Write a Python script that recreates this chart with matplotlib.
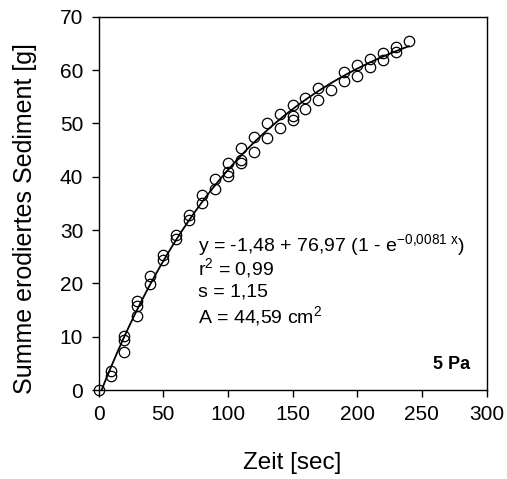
import numpy as np
import matplotlib
matplotlib.use("Agg")
import matplotlib.pyplot as plt

plt.rcParams['font.family'] = ['Liberation Sans', 'DejaVu Sans']
plt.rcParams['mathtext.fontset'] = 'custom'
plt.rcParams['mathtext.rm'] = 'Liberation Sans'
plt.rcParams['mathtext.it'] = 'Liberation Sans'

# Measured data (time in s, cumulative eroded sediment in g)
time_s = [0,
          10, 10,
          20, 20, 20,
          30, 30, 30,
          40, 40,
          50, 50,
          60, 60,
          70, 70,
          80, 80,
          90, 90,
          100, 100, 100,
          110, 110, 110,
          120, 120,
          130, 130,
          140, 140,
          150, 150, 150,
          160, 160,
          170, 170,
          180,
          190, 190,
          200, 200,
          210, 210,
          220, 220,
          230, 230,
          240]
sediment_g = [0.0,
              3.6, 2.7,
              10.1, 9.4, 7.1,
              16.6, 15.7, 13.9,
              21.3, 19.9,
              25.3, 24.4,
              29.1, 28.3,
              32.8, 31.9,
              36.5, 35.1,
              39.6, 37.7,
              42.6, 40.8, 40.2,
              45.4, 43.1, 42.5,
              47.4, 44.7,
              50.1, 47.3,
              51.8, 49.1,
              53.4, 51.3, 50.6,
              54.8, 52.7,
              56.7, 54.3,
              56.3,
              59.6, 57.9,
              60.9, 58.9,
              62.0, 60.6,
              63.2, 61.9,
              64.3, 63.4,
              65.5]

# Fit parameters: y = y0 + a (1 - exp(-b x))
y0, a, b = -1.48, 76.97, 0.0081
fit_x = np.linspace(0, 240, 300)
fit_y = y0 + a * (1 - np.exp(-b * fit_x))

x_ticks = [0, 50, 100, 150, 200, 250, 300]
y_ticks = [0, 10, 20, 30, 40, 50, 60, 70]

fig = plt.figure(figsize=(5.07, 4.79), dpi=100)
ax = fig.add_axes([0.1943, 0.1858, 0.9596 - 0.1943, 0.9651 - 0.1858])

ax.plot(fit_x, fit_y, color='black', lw=1.3, zorder=2)
ax.plot(time_s, sediment_g, linestyle='none', marker='o', markersize=7.5,
        markerfacecolor='none', markeredgecolor='black', markeredgewidth=0.9,
        zorder=3, clip_on=False)

ax.set_xlim(0, 300)
ax.set_ylim(0, 70)
ax.set_xticks(x_ticks)
ax.set_yticks(y_ticks)
ax.tick_params(axis='both', direction='out', length=5, width=1, labelsize=15,
               pad=6, top=False, right=False)
for s in ax.spines.values():
    s.set_linewidth(1.0)

ax.set_xlabel('Zeit [sec]', fontsize=17.5, labelpad=20)
ax.set_ylabel('Summe erodiertes Sediment [g]', fontsize=18)
ax.yaxis.set_label_coords(-0.158, 0.46)

fs = 14
ax.text(77, 27.2, r'y = -1,48 + 76,97 (1 - e$^{\mathregular{-0{,}0081\ x}}$)',
        fontsize=fs, va='center', ha='left')
ax.text(77, 22.9, r'r$^{\mathregular{2}}$ = 0,99', fontsize=fs, va='center', ha='left')
ax.text(77, 18.4, 's = 1,15', fontsize=fs, va='center', ha='left')
ax.text(77, 13.9, r'A = 44,59 cm$^{\mathregular{2}}$', fontsize=fs, va='center', ha='left')
ax.text(287, 4.7, '5 Pa', fontsize=13, fontweight='bold', va='center', ha='right')

fig.savefig('out.png', dpi=100)
